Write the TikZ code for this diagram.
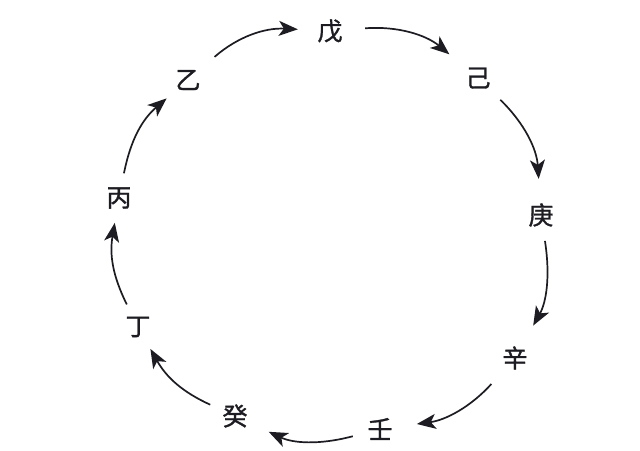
\documentclass[tikz,border=0pt]{standalone}
\usepackage{fontspec}
\newfontfamily\cjk[FakeBold=1.2]{Noto Sans CJK SC}
\usetikzlibrary{arrows.meta}
\definecolor{ink}{HTML}{1C1C22}
\tikzset{
  stem/.style={circle, inner sep=0pt, minimum size=50pt, text=ink,
    font=\cjk\fontsize{25}{25}\selectfont},
  flow/.style={draw=ink, line width=1.7pt,
    -{Stealth[length=19pt,width=15pt,inset=5pt]}}
}
\begin{document}
\begin{tikzpicture}[x=1pt,y=1pt]
\useasboundingbox (0,0) rectangle (640,-450);
\node[stem] (wu)   at (330,-31)  {戊};
\node[stem] (ji)   at (478,-78)  {己};
\node[stem] (geng) at (541,-215) {庚};
\node[stem] (xin)  at (515,-358) {辛};
\node[stem] (ren)  at (380,-429) {壬};
\node[stem] (gui)  at (235,-416) {癸};
\node[stem] (ding) at (138,-327) {丁};
\node[stem] (bing) at (119,-198) {丙};
\node[stem] (yi)   at (188,-80)  {乙};
\draw[flow, shorten <=10pt, shorten >=12pt] (wu) to[bend left=22] (ji);
\draw[flow, shorten <=6pt, shorten >=11pt] (ji) to[bend left=21] (geng);
\draw[flow, shorten <=1pt, shorten >=12pt] (geng) to[bend left=19] (xin);
\draw[flow, shorten <=10pt, shorten >=12pt] (xin) to[bend left=20] (ren);
\draw[flow, shorten <=3pt, shorten >=12pt] (ren) to[bend left=20] (gui);
\draw[flow, shorten <=2pt, shorten >=0pt] (gui) to[bend left=18] (ding);
\draw[flow] (ding) to[bend left=18] (bing);
\draw[flow, shorten >=3pt] (bing) to[bend left=19] (yi);
\draw[flow, shorten <=10pt, shorten >=7pt] (yi) to[bend left=22] (wu);
\end{tikzpicture}
\end{document}
